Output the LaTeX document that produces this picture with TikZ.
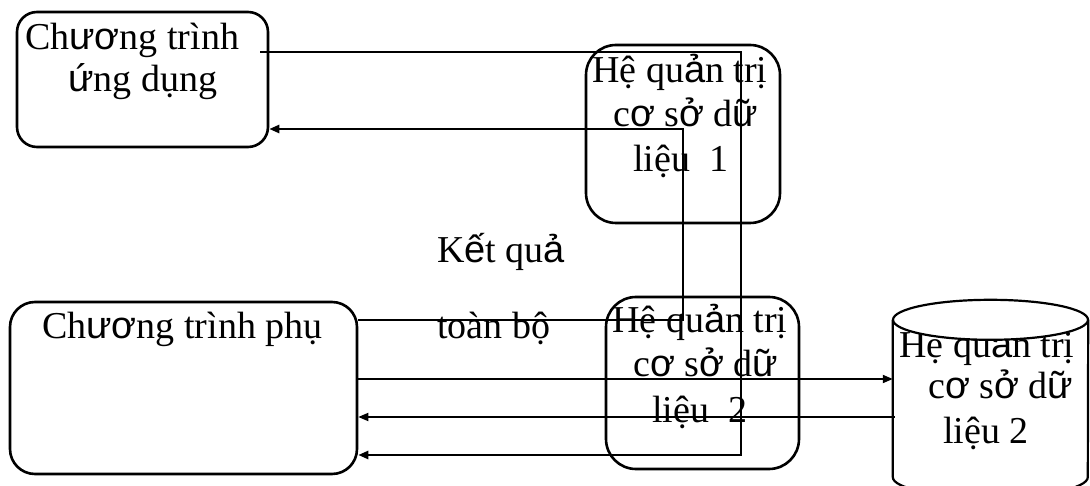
\documentclass[tikz,border=0pt]{standalone}
\usepackage{fontspec}
\setmainfont{Liberation Serif}
\newfontfamily\sansglyph{Liberation Sans}
\newcommand{\sg}[1]{{\sansglyph #1}}
\usetikzlibrary{arrows.meta,calc}

\begin{document}
\begin{tikzpicture}[x=1pt,y=-1pt,
  box/.style={draw, line width=2.6pt, rounded corners=#1, inner sep=0pt},
  txt/.style={anchor=base west, inner sep=0pt, font=\fontsize{38}{46}\selectfont},
  link/.style={line width=2.4pt},
  thin link/.style={line width=1.8pt},
  tip/.style={-{Triangle[length=10pt,width=8pt]}}
]
\useasboundingbox (0,0) rectangle (1090,486);
\clip (0,0) rectangle (1090,486);

% boxes
\node[box=20pt, minimum width=251pt, minimum height=135pt] (A) at (142.5,79.5) {};
\node[box=30pt, minimum width=194pt, minimum height=178pt] (B) at (683,134) {};
\node[box=30pt, minimum width=193pt, minimum height=172pt] (C) at (702.5,383) {};
\node[box=25pt, minimum width=347pt, minimum height=172pt] (D) at (183.5,388) {};
\node[inner sep=0pt, minimum width=195pt, minimum height=157pt] (E) at (990.5,398.5) {};

% texts
\node[txt] (tA1) at (25,50) {Ch\sg{ươ}ng trình};
\node[txt] (tA2) at (68,92) {\sg{ứ}ng dụng};
\node[txt] (tB1) at (592,83) {Hệ qu\sg{ả}n trị};
\node[txt] (tB2) at (613,127) {c\sg{ơ} s\sg{ở} d\sg{ữ}};
\node[txt] (tB3) at (633,172) {liệu\ \ 1};
\node[txt] (tK1) at (437,263) {K\sg{ế}t qu\sg{ả}};
\node[txt] (tK2) at (437,338) {toàn bộ};
\node[txt] (tC1) at (612,333) {Hệ qu\sg{ả}n trị};
\node[txt] (tC2) at (633,377) {c\sg{ơ} s\sg{ở} d\sg{ữ}};
\node[txt] (tC3) at (652,422) {liệu\ \ 2};
\node[txt] (tD1) at (42,338) {Ch\sg{ươ}ng trình phụ};

% cylinder: body, label, then the lid on top
\draw[line width=2.2pt] (E.north west) -- (E.south west)
  arc[start angle=180, end angle=0, x radius=97.5, y radius=20] -- (E.north east);
\node[txt] (tE1) at (899,358) {Hệ qu\sg{ả}n trị};
\node[txt] (tE2) at (928,398) {c\sg{ơ} s\sg{ở} d\sg{ữ}};
\node[txt] (tE3) at (943,443) {liệu 2};
\draw[line width=2.2pt, fill=white] (E.north) ellipse[x radius=97.5, y radius=20];

% connectors
\coordinate (r1) at (741,52);
\coordinate (r2) at (741,455);
\draw[link,tip] ($(A.east |- r1)+(-9,0)$) -- (r1) -- (r2) -- (D.east |- r2);
\coordinate (l1) at (683,320);
\coordinate (l2) at (683,129);
\draw[link,tip] (D.east |- l1) -- (l1) -- (l2) -- (A.east |- l2);
\coordinate (m1) at (0,379);
\draw[thin link,tip] (D.east |- m1) -- (E.west |- m1);
\coordinate (m2) at (0,417);
\draw[thin link,tip] ($(E.west |- m2)+(2,0)$) -- (D.east |- m2);
\end{tikzpicture}
\end{document}
